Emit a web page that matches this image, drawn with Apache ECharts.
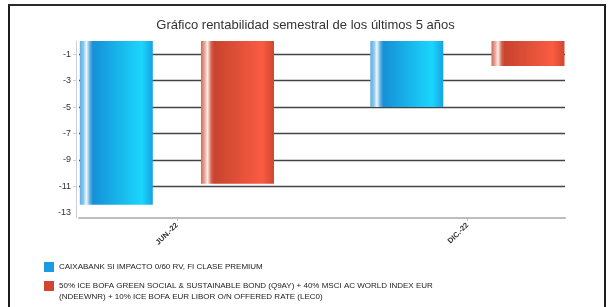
<!DOCTYPE html>
<html><head><meta charset="utf-8">
<script src="https://cdn.jsdelivr.net/npm/echarts@6/dist/echarts.min.js"></script>
<style>
html,body{margin:0;padding:0;background:#fff;width:611px;height:307px;overflow:hidden;}
#frame{position:absolute;left:8px;top:4px;width:598px;height:330px;border:2px solid #1c1c1c;border-top-color:#2a2a2a;box-sizing:border-box;}
#c{position:absolute;left:0;top:0;width:611px;height:307px;}
</style></head>
<body>
<div id="frame"></div>
<div id="c"></div>
<script>
var title = 'Gráfico rentabilidad semestral de los últimos 5 años';
var categories = ['JUN.-22', 'DIC.-22'];
var seriesNames = [
  'CAIXABANK SI IMPACTO 0/60 RV, FI CLASE PREMIUM',
  '50% ICE BOFA GREEN SOCIAL & SUSTAINABLE BOND (Q9AY) + 40% MSCI AC WORLD INDEX EUR (NDEEWNR) + 10% ICE BOFA EUR LIBOR O/N OFFERED RATE (LEC0)'
];
var fundValues = [-12.4, -5.0];
var benchValues = [-10.8, -1.9];
var yLabelValues = [-13, -11, -9, -7, -5, -3, -1];
var yGridValues = [-11, -9, -7, -5, -3, -1];

var chart = echarts.init(document.getElementById('c'), null, {renderer: 'canvas'});

function grad(stops) {
  return new echarts.graphic.LinearGradient(0, 0, 1, 0, stops);
}
var blueGrad = grad([
  {offset: 0, color: '#5ab0e4'},
  {offset: 0.05, color: '#8cc8ec'},
  {offset: 0.09, color: '#f0f8fd'},
  {offset: 0.14, color: '#5aaee2'},
  {offset: 0.18, color: '#1590d8'},
  {offset: 0.85, color: '#1ad6fc'},
  {offset: 1, color: '#16a2e4'}
]);
var redGrad = grad([
  {offset: 0, color: '#d06a58'},
  {offset: 0.05, color: '#e8a89c'},
  {offset: 0.09, color: '#fbeeea'},
  {offset: 0.14, color: '#d66450'},
  {offset: 0.18, color: '#c8432e'},
  {offset: 0.84, color: '#fa5c42'},
  {offset: 1, color: '#cf4630'}
]);

function pts(vals) { return vals.map(function (v, i) { return [i, v]; }); }

var legendText = {fontFamily: 'Liberation Sans', fontSize: 8, color: '#222', lineHeight: 11};

chart.setOption({
  animation: false,
  title: {
    text: title, left: 'center', top: 14,
    textStyle: {fontFamily: 'Liberation Sans', fontSize: 13, fontWeight: 'normal', color: '#333'}
  },
  legend: [{
    data: [{name: seriesNames[0], itemStyle: {color: '#1a9be2'}}],
    left: 44, top: 261.5, padding: 0, orient: 'vertical',
    itemWidth: 10, itemHeight: 10, itemGap: 0, icon: 'rect', selectedMode: false,
    textStyle: legendText
  }, {
    data: [{name: seriesNames[1], itemStyle: {color: '#d2452f'}}],
    left: 44, top: 269.5, padding: 0, orient: 'vertical',
    itemWidth: 10, itemHeight: 10, itemGap: 0, icon: 'rect', selectedMode: false,
    textStyle: legendText,
    formatter: function (n) { return ' \n' + n.replace(' (NDEEWNR)', '\n(NDEEWNR)'); }
  }],
  grid: {left: 79, right: 46, top: 41, bottom: 89, containLabel: false},
  xAxis: {
    type: 'value', min: -0.337, max: 1.336,
    axisLine: {show: true, onZero: false, lineStyle: {color: '#bdbdbd', width: 2}},
    axisTick: {show: true, customValues: [0, 1], length: 3, lineStyle: {color: '#bdbdbd'}},
    splitLine: {show: false},
    axisLabel: {
      customValues: [0, 1], rotate: 45, margin: 6,
      fontFamily: 'Liberation Sans', fontSize: 7.5, fontWeight: 'bold', color: '#333',
      formatter: function (v) { return categories[Math.round(v)]; }
    }
  },
  yAxis: {
    type: 'value', min: -13.4, max: 0, offset: 3,
    axisLine: {show: true, onZero: false, lineStyle: {color: '#cfcfcf', width: 1}},
    axisTick: {show: true, customValues: yGridValues, length: 3, lineStyle: {color: '#cfcfcf'}},
    axisLabel: {
      customValues: yLabelValues, margin: 5,
      fontFamily: 'Liberation Sans', fontSize: 9, color: '#333'
    },
    splitLine: {show: true, lineStyle: {color: '#444', width: 1.3}}
  },
  series: [{
    name: seriesNames[0], type: 'bar', data: pts(fundValues),
    barWidth: 73, barGap: '66%',
    itemStyle: {color: blueGrad}
  }, {
    name: seriesNames[1], type: 'bar', data: pts(benchValues),
    barWidth: 73, barGap: '66%',
    itemStyle: {color: redGrad}
  }]
});
</script>
</body></html>
